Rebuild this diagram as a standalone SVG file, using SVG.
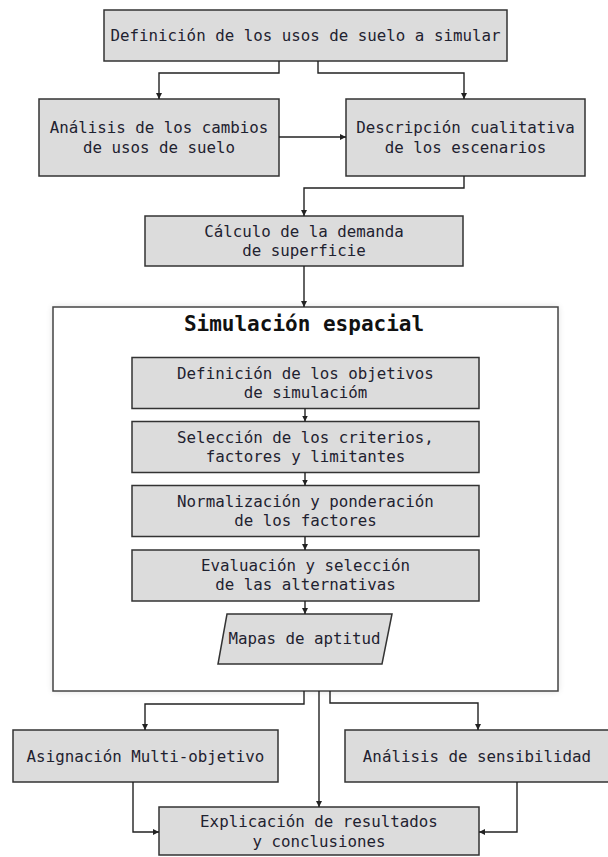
<svg xmlns="http://www.w3.org/2000/svg" width="608" height="857" viewBox="0 0 608 857">
<style>
.box{fill:#dcdcdc;stroke:#333;stroke-width:1.5}
.cont{fill:#fff;stroke:#444;stroke-width:1.5}
.t{font-family:"DejaVu Sans Mono","Liberation Mono",monospace;font-size:15.8px;fill:#1f2230;text-anchor:middle}
.title{font-family:"DejaVu Sans Mono","Liberation Mono",monospace;font-size:21px;font-weight:bold;fill:#111;text-anchor:middle}
.c{fill:none;stroke:#222;stroke-width:1.4}
</style>
<defs>
<marker id="ah" viewBox="0 0 10 10" refX="10" refY="5" markerWidth="6" markerHeight="6" markerUnits="userSpaceOnUse" orient="auto">
<path d="M0,0 L10,5 L0,10 z" fill="#222"/>
</marker>
<filter id="sh" x="-5%" y="-5%" width="110%" height="110%">
<feGaussianBlur in="SourceAlpha" stdDeviation="3"/>
<feComponentTransfer><feFuncA type="linear" slope="0.12"/></feComponentTransfer>
<feMerge><feMergeNode/><feMergeNode in="SourceGraphic"/></feMerge>
</filter>
</defs>
<rect width="608" height="857" fill="#fff"/>

<g id="n-definicion">
<rect class="box" x="104" y="10" width="403" height="51"/>
<text class="t" x="305.5" y="41">Definición de los usos de suelo a simular</text>
</g>
<g id="n-analisis-cambios">
<rect class="box" x="39" y="99" width="240" height="77"/>
<text class="t" x="159" y="133">Análisis de los cambios</text>
<text class="t" x="159" y="153">de usos de suelo</text>
</g>
<g id="n-descripcion">
<rect class="box" x="346" y="99" width="239" height="77"/>
<text class="t" x="465.5" y="133">Descripción cualitativa</text>
<text class="t" x="465.5" y="153">de los escenarios</text>
</g>
<g id="n-calculo">
<rect class="box" x="145" y="216" width="318" height="50"/>
<text class="t" x="304" y="237">Cálculo de la demanda</text>
<text class="t" x="304" y="256">de superficie</text>
</g>
<g id="n-simulacion">
<rect class="cont" x="53" y="307" width="505" height="384" filter="url(#sh)"/>
<text class="title" x="304" y="331">Simulación espacial</text>
</g>
<g id="n-objetivos">
<rect class="box" x="132" y="357.5" width="347" height="51"/>
<text class="t" x="305.5" y="378.5">Definición de los objetivos</text>
<text class="t" x="305.5" y="397.5">de simulacióm</text>
</g>
<g id="n-criterios">
<rect class="box" x="132" y="421.5" width="347" height="51"/>
<text class="t" x="305.5" y="442.5">Selección de los criterios,</text>
<text class="t" x="305.5" y="461.5">factores y limitantes</text>
</g>
<g id="n-normalizacion">
<rect class="box" x="132" y="485.5" width="347" height="51"/>
<text class="t" x="305.5" y="506.5">Normalización y ponderación</text>
<text class="t" x="305.5" y="525.5">de los factores</text>
</g>
<g id="n-evaluacion">
<rect class="box" x="132" y="550" width="347" height="51"/>
<text class="t" x="305.5" y="571">Evaluación y selección</text>
<text class="t" x="305.5" y="590">de las alternativas</text>
</g>
<g id="n-mapas">
<polygon class="box" points="227,614 392,614 382,664 218,664"/>
<text class="t" x="304.5" y="644">Mapas de aptitud</text>
</g>
<g id="n-asignacion">
<rect class="box" x="13" y="730" width="265" height="52"/>
<text class="t" x="145.5" y="761.5">Asignación Multi-objetivo</text>
</g>
<g id="n-sensibilidad">
<rect class="box" x="345" y="730" width="264" height="52"/>
<text class="t" x="477" y="761.5">Análisis de sensibilidad</text>
</g>
<g id="n-explicacion">
<rect class="box" x="159" y="807" width="320" height="48"/>
<text class="t" x="319" y="827">Explicación de resultados</text>
<text class="t" x="319" y="847">y conclusiones</text>
</g>

<g id="connectors">
<path class="c" d="M279,61 V73 H159 V99" marker-end="url(#ah)"/>
<path class="c" d="M318,61 V73 H464 V99" marker-end="url(#ah)"/>
<path class="c" d="M279,137 H346" marker-end="url(#ah)"/>
<path class="c" d="M464,176 V188 H304 V216" marker-end="url(#ah)"/>
<path class="c" d="M304,266 V307" marker-end="url(#ah)"/>
<path class="c" d="M305,408.5 V421.5" marker-end="url(#ah)"/>
<path class="c" d="M305,472.5 V485.5" marker-end="url(#ah)"/>
<path class="c" d="M305,536.5 V550" marker-end="url(#ah)"/>
<path class="c" d="M305,601 V614" marker-end="url(#ah)"/>
<path class="c" d="M304,691 V704 H145 V730" marker-end="url(#ah)"/>
<path class="c" d="M319,691 V807" marker-end="url(#ah)"/>
<path class="c" d="M330,691 V703 H478 V730" marker-end="url(#ah)"/>
<path class="c" d="M133,782 V832 H159" marker-end="url(#ah)"/>
<path class="c" d="M517,782 V832 H479" marker-end="url(#ah)"/>
</g>
</svg>
